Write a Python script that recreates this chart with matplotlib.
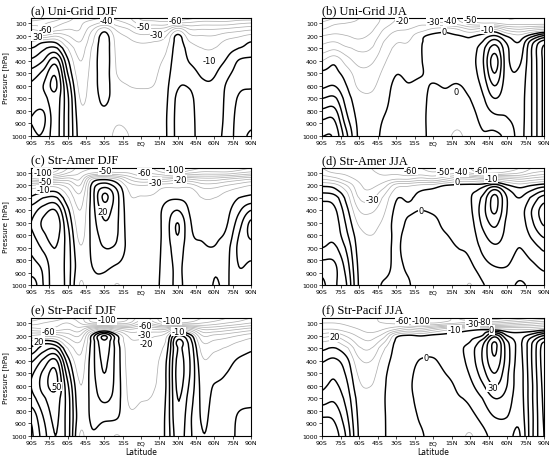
import numpy as np
import matplotlib
matplotlib.use("Agg")
import matplotlib.pyplot as plt

# ---------------- grid of the read-off values ----------------
lats = list(range(-90, 91, 10))                       # 19 latitude columns
plevs = [60, 100, 150, 200, 250, 300, 400, 500, 600, 700, 850, 1000]   # hPa
xticks = list(range(-90, 91, 15))
xtick_labels = ['90S', '75S', '60S', '45S', '30S', '15S', 'EQ',
                '15N', '30N', '45N', '60N', '75N', '90N']
yticks = [100, 200, 300, 400, 500, 600, 700, 800, 900, 1000]

# each row = one latitude (90S..90N), values at plevs (60..1000 hPa)
uni_djf = [
    [-75, -65, -50, -28, -10, 0, 12, 24, 32, 34, 30, 31],
    [-72, -62, -55, -30, -2, 8, 20, 33, 40, 36, 28, 31],
    [-65, -55, -45, -22, -2, 12, 35, 48, 52, 46, 44, 44],
    [-55, -48, -40, -30, -20, -10, 2, 10, 18, 22, 22, 22],
    [-45, -42, -40, -35, -30, -25, -20, -16, -13, -10, -6, -4],
    [-42, -35, -22, -15, -12, -9, -7, -6, -5, -5, -4, -3],
    [-40, -28, -5, 4, 6, 6, 6, 5, 4, 2, -3, -5],
    [-42, -35, -22, -15, -13, -12, -11, -10, -7, -5, -8, -12],
    [-48, -42, -30, -22, -18, -15, -13, -12, -10, -6, -7, -10],
    [-62, -54, -42, -28, -21, -17, -14, -13, -11, -6, -4, -3],
    [-64, -55, -38, -27, -20, -15, -13, -12, -10, -5, -3, -2],
    [-66, -56, -35, -22, -16, -12, -8, -5, -3, -2, -1, -1],
    [-66, -50, -15, 2, 4, 5, 6, 7, 9, 12, 13, 13],
    [-62, -48, -30, -18, -10, -5, -1, 4, 9, 12, 13, 13],
    [-58, -45, -30, -20, -14, -10, -5, -1.5, 2, 4, 5, 6],
    [-58, -45, -30, -20, -14, -10, -5, -1, 2, 4, 7, 9],
    [-58, -45, -28, -15, -8, -4, 1, 7, 11, 12, 12, 12],
    [-55, -42, -25, -12, -5, 0, 10.5, 14, 18, 21, 24, 26],
    [-55, -40, -22, -8, 0, 4, 12, 15, 19, 23, 27, 31],
]

uni_jja = [
    [-65, -58, -50, -40, -32, -26, -10, 2, 8, 20, 38, 50],
    [-60, -52, -45, -38, -30, -22, -3, 3, 10, 22, 38, 48],
    [-55, -50, -45, -40, -35, -28, -15, -5, 0, 5, 12, 22],
    [-50, -48, -45, -42, -38, -32, -24, -16, -12, -6, -3, -2],
    [-45, -45, -42, -38, -34, -30, -22, -16, -12, -8, -4, -3],
    [-38, -36, -30, -25, -20, -17, -12, -8, -5, -3, 0, 1.5],
    [-30, -28, -22, -15, -11, -8, -4, -0.5, 2, 3, 3, 3],
    [-25, -25, -20, -14, -10, -8, -5, -2, 0.5, 2, 3, 3],
    [-25, -22, -15, -3, -1, -0.5, -0.5, -0.5, 1.5, 2, 2, 2],
    [-30, -26, -8, 2, 3, 3, 3, 2, -0.5, -2, -3, -3],
    [-35, -30, -5, 2, 4, 4, 4, 3, 0.5, -2, -5, -8],
    [-40, -35, -10, 0.5, 4, 5, 5, 3, -0.5, -3, -7, -11],
    [-50, -45, -20, -2, 1, 4, 6, 5, 3, 0, -4, -7],
    [-55, -50, -15, 3, 10, 16, 18, 16, 12, 8, 3, -1],
    [-55, -50, -10, 10, 25, 35, 45, 40, 30, 20, 8, -2],
    [-60, -55, -25, -2, 8, 12, 13, 14, 14, 13, 10, 3],
    [-60, -55, -30, -8, 0, 4, 8, 12, 14, 15, 15, 15],
    [-60, -55, -25, 5, 25, 30, 30, 30, 30, 30, 30, 30],
    [-60, -55, -20, 20, 45, 52, 52, 52, 52, 52, 52, 52],
]

amer_djf = [
    [-100, -90, -55, -20, -5, 2, 15, 20, 18, 12, 8, 12],
    [-100, -95, -60, -15, -2, 10, 25, 32, 28, 22, 12, 10],
    [-95, -85, -50, -15, 0, 12, 30, 38, 34, 30, 28, 28],
    [-80, -70, -45, -25, -15, -8, 3, 10, 14, 15, 15, 15],
    [-65, -60, -50, -40, -32, -26, -20, -16, -13, -9, -6, -10.5],
    [-60, -50, -10, 3, 5, 5, 5, 4, 3, 2, 0, -2],
    [-55, -45, -2, 15, 28, 32, 24, 19, 14, 10, 2, -3],
    [-55, -48, -10, 5, 12, 14, 13, 12, 11, 8, -1, -10.5],
    [-58, -50, -30, -15, -10, -8, -6, -5, -4, -3, -4, -5],
    [-62, -58, -40, -20, -13, -9, -7, -6, -5, -5, -4, -4],
    [-70, -62, -40, -18, -12, -8, -6, -5, -5, -5, -4, -3],
    [-85, -70, -40, -15, -5, -2, 3, 4, 4, 4, 4, 4],
    [-100, -85, -35, -15, -5, -1, 10, 20, 20, 15, 12, 12],
    [-95, -80, -40, -15, -5, -3, -1, 1, 2, 3, 4, 5],
    [-90, -75, -45, -25, -15, -10, -5, -3, -1, 1, 3, 4],
    [-90, -75, -45, -25, -15, -10, -6, -3, -1, 0.5, 8, 10.5],
    [-90, -75, -40, -20, -10, -6, -3, -1, 2, 6, 8, 9],
    [-85, -70, -35, -15, -5, 0, 8, 15, 20, 22, 20, 16],
    [-80, -65, -30, -10, -2, 3, 20, 32, 32, 25, 18, 12],
]

amer_jja = [
    [-40, -35, -20, -2, 8, 18, 24, 26, 27, 30, 45, 52],
    [-45, -40, -25, -5, 5, 15, 22, 25, 27, 32, 42, 42],
    [-45, -42, -35, -20, -10, -4, 3, 8, 12, 18, 25, 30],
    [-45, -45, -42, -38, -35, -30, -20, -12, -6, -4, -2, -1],
    [-50, -48, -45, -42, -38, -32, -22, -14, -10, -6, -3, -2],
    [-55, -52, -45, -35, -25, -18, -12, -8, -5, -3, -2, 0.5],
    [-55, -52, -40, -15, -6, -1, 2, 3, 1.5, 1, 1, 1],
    [-58, -55, -40, -12, -5, -1, 1, -1.5, -3, -3, -1, 0.5],
    [-60, -55, -35, -8, 0.5, 2, 0, -3, -4, -4, -3, -3],
    [-62, -58, -38, -6, 2, 3, 1, -2, -3, -3, -3, -2],
    [-62, -55, -30, 0, 3, 4, 3, 2, -0.5, -2, -3, -2],
    [-62, -52, -20, 2, 5, 6, 5, 4, 2, 0, -3, -4],
    [-70, -60, -20, 3, 8, 9, 8, 6, 4, 2, -2, -10.5],
    [-80, -70, -25, 5, 15, 22, 25, 22, 17, 12, 6, -1],
    [-80, -70, -20, 15, 35, 43, 42, 33, 25, 18, 10, 3],
    [-75, -65, -25, 2, 15, 20, 20, 18, 17, 15, 10, 3],
    [-70, -60, -30, -5, 5, 10, 15, 14, 12, 10, 5, -1],
    [-60, -50, -25, 0, 12, 22, 30, 28, 22, 15, 8, 2],
    [-55, -45, -20, 5, 22, 35, 45, 42, 32, 22, 12, 6],
]

pacif_djf = [
    [-85, -75, -55, -30, -8, 2, 18, 28, 30, 26, 12, 8],
    [-80, -70, -58, -25, 5, 15, 32, 42, 44, 38, 30, 25],
    [-75, -65, -55, -25, 0, 18, 42, 52, 53, 45, 42, 40],
    [-70, -60, -50, -35, -22, -10, 5, 15, 22, 25, 25, 25],
    [-75, -70, -55, -40, -30, -24, -17, -13, -9.5, -8, -6, -10.5],
    [-95, -85, -30, 2, 4, 5, 6, 6, 5, 4, 2, -1],
    [-100, -85, -15, 30, 28, 25, 22, 20, 17, 12, 2, -5],
    [-100, -85, -30, 2, 4, 6, 6, 6, 6, 5, 1, -10.5],
    [-90, -80, -40, -22, -17, -15, -14, -13, -12, -11, -8, -6],
    [-75, -62, -35, -25, -18, -15, -13, -12, -11, -10.5, -7, -5],
    [-85, -75, -40, -22, -18, -15, -13, -12, -11, -9, -6, -4],
    [-100, -90, -40, -15, -10, -6, -2, -1, -1, 0, 1, 1],
    [-100, -90, -15, 20, 32, 30, 32, 33, 32, 30, 28, 25],
    [-95, -85, -30, 5, 15, 18, 20, 20, 18, 15, 12, 12],
    [-90, -80, -50, -30, -20, -14, -8, -5, -3, -2, -1, 0.5],
    [-85, -75, -50, -28, -18, -12, -6, -3, 0.5, 2, 3, 3],
    [-80, -70, -45, -25, -15, -9, -3, 0, 2, 4, 5, 5],
    [-75, -65, -40, -20, -10, -4, 1, 3, 5, 7, 11, 12],
    [-70, -60, -35, -15, -6, -1, 2, 4, 6, 8, 12, 13],
]

pacif_jja = [
    [-55, -50, -40, -25, -10, -2, 9, 14, 18, 25, 40, 50],
    [-55, -50, -40, -22, -8, 0.5, 12, 18, 22, 28, 38, 45],
    [-55, -52, -45, -32, -20, -8, 3, 8, 12, 16, 22, 28],
    [-55, -55, -50, -42, -35, -28, -18, -12, -8, -4, -2, -1],
    [-58, -58, -55, -45, -38, -30, -20, -14, -10, -6, -3, -2],
    [-62, -60, -50, -35, -22, -12, -5, -2, -1, -0.5, -0.5, -0.5],
    [-65, -62, -40, -5, 2, 3, 3, 3, 3, 3, 3, 3],
    [-68, -65, -30, 1, 4, 5, 3, 2, 1.5, 2, 3, 3],
    [-70, -68, -35, -1, 2, 3, -0.5, -3, -4, -3, -1, 1],
    [-75, -70, -25, 2, 3, 3, -1, -4, -5, -5, -4, -3],
    [-72, -65, -15, 3, 5, 5, 3, 0, -3, -4, -4, -4],
    [-70, -60, -10, 4, 6, 7, 6, 4, 1.5, -1, -4, -6],
    [-80, -55, -5, 6, 10, 15, 14, 11, 7, 2, -3, -11],
    [-85, -60, -2, 10, 25, 30, 30, 25, 18, 10, 3, -3],
    [-85, -60, -5, 35, 50, 52, 48, 40, 30, 20, 10, 3],
    [-80, -55, -10, 10, 22, 25, 25, 22, 20, 16, 10, 4],
    [-75, -50, -10, 5, 8, 8, 7, 6, 6, 5, 3, -1],
    [-70, -45, -10, 15, 28, 30, 30, 29, 28, 28, 27, 27],
    [-65, -40, -5, 30, 50, 55, 55, 54, 53, 52, 51, 50],
]

titles = ['(a) Uni-Grid DJF', '(b) Uni-Grid JJA',
          '(c) Str-Amer DJF', '(d) Str-Amer JJA',
          '(e) Str-Pacif DJF', '(f) Str-Pacif JJA']

# contour labels: (latitude, pressure, text)
labels_a = [(-78, 150, '-60'), (-85, 205, '30'), (-28, 80, '-40'),
            (2, 129, '-50'), (13, 188, '-30'), (28, 80, '-60'), (56, 397, '-10')]
labels_b = [(-25, 82, '-20'), (0, 88, '-30'), (14, 82, '-40'), (30, 72, '-50'),
            (44, 148, '-10'), (9, 171, '0'), (19, 642, '0')]
labels_c = [(-80, 100, '-100'), (-78, 167, '-50'), (-80, 233, '-10'),
            (-29.5, 80, '-50'), (3, 100, '-60'), (28, 75, '-100'),
            (11.5, 175, '-30'), (32, 153, '-20'), (-31, 407, '20')]
labels_d = [(-18, 78, '-60'), (8, 92, '-50'), (23, 92, '-40'), (39, 80, '-60'),
            (47, 142, '-10'), (-49.4, 313, '-30'), (19.4, 165, '0'), (-10, 403, '0')]
labels_e = [(-28, 75, '-100'), (-75.8, 167, '-60'), (-83.4, 246, '20'),
            (3.4, 116, '-60'), (2.6, 188, '-30'), (4.2, 262, '-20'),
            (25.2, 80, '-100'), (30.7, 167, '-10'), (-69, 606, '50')]
labels_f = [(-25, 82, '-60'), (-10, 78, '-100'), (32, 106, '-30'), (42, 86, '-80'),
            (17.3, 155, '-10'), (-80, 209, '20'), (47.5, 153, '0'),
            (-5.8, 372, '0'), (48, 612, '30')]

fields = [uni_djf, uni_jja, amer_djf, amer_jja, pacif_djf, pacif_jja]
labels = [labels_a, labels_b, labels_c, labels_d, labels_e, labels_f]

neg_levels = list(range(-100, -9, 10))
pos_levels = list(range(0, 71, 10))


def cr_resample(a, n, axis):
    """Catmull-Rom resampling along one axis (smooth contour drawing)."""
    a = np.moveaxis(np.asarray(a, float), axis, 0)
    m = a.shape[0]
    t = np.linspace(0, m - 1, n)
    i = np.clip(np.floor(t).astype(int), 0, m - 2)
    u = (t - i)[:, None]
    p0 = a[np.clip(i - 1, 0, m - 1)]
    p1 = a[i]
    p2 = a[i + 1]
    p3 = a[np.clip(i + 2, 0, m - 1)]
    out = 0.5 * (2 * p1 + (-p0 + p2) * u + (2 * p0 - 5 * p1 + 4 * p2 - p3) * u ** 2
                 + (-p0 + 3 * p1 - 3 * p2 + p3) * u ** 3)
    return np.moveaxis(out, 0, axis)


nlat_f, np_f = 181, 221
lat_f = np.linspace(lats[0], lats[-1], nlat_f)
p_f = np.interp(np.linspace(0, len(plevs) - 1, np_f), np.arange(len(plevs)), plevs)

fig = plt.figure(figsize=(5.49, 4.56), dpi=100)
W, H = 549.0, 456.0
col_x = [(31, 220), (322, 222)]
row_y = [(19, 137), (169, 286), (319, 437)]

for k in range(6):
    r, c = divmod(k, 2)
    x0, w = col_x[c]
    t0, b0 = row_y[r]
    ax = fig.add_axes([x0 / W, 1 - b0 / H, w / W, (b0 - t0) / H])
    Z = np.array(fields[k], float).T          # (plev, lat)
    Z = cr_resample(Z, np_f, 0)
    Z = cr_resample(Z, nlat_f, 1)
    ax.contour(lat_f, p_f, Z, levels=neg_levels, colors='#b0b0b0',
               linewidths=0.55, linestyles='solid')
    ax.contour(lat_f, p_f, Z, levels=pos_levels, colors='black',
               linewidths=1.05, linestyles='solid')
    for (la, pp, s) in labels[k]:
        ax.text(la, pp, s, fontsize=6.0, ha='center', va='center', color='black',
                bbox=dict(boxstyle='square,pad=0.05', fc='white', ec='none'))
    ax.set_xlim(-90, 90)
    ax.set_ylim(1000, 60)
    ax.set_xticks(xticks)
    ax.set_xticklabels(xtick_labels)
    ax.set_yticks(yticks)
    ax.set_yticklabels([str(v) for v in yticks])
    ax.tick_params(labelsize=4.5, length=2, width=0.5, pad=1)
    for sp in ax.spines.values():
        sp.set_linewidth(0.8)
    ax.set_title(titles[k], loc='left', fontsize=9, family='Liberation Serif', pad=3.5)
    if c == 0:
        ax.set_ylabel('Pressure [hPa]', fontsize=5.2, labelpad=2)
    if r == 2:
        ax.set_xlabel('Latitude', fontsize=5.5, labelpad=1)

fig.savefig('out.png', dpi=100)
